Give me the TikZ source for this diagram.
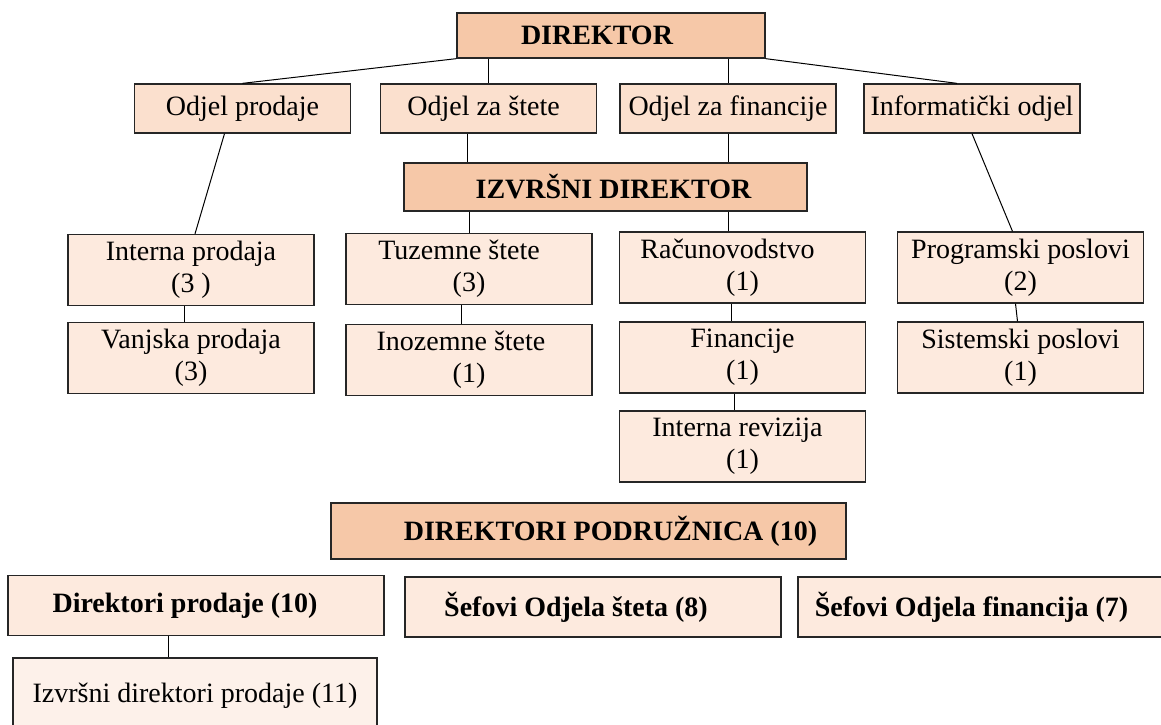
\documentclass[tikz,border=0pt]{standalone}
\usepackage{fontspec}
\setmainfont{Liberation Serif}
\definecolor{tamna}{RGB}{246,200,168}
\definecolor{srednja}{RGB}{251,224,206}
\definecolor{svijetla}{RGB}{253,234,222}
\definecolor{najsvj}{RGB}{253,241,234}
\tikzset{
	kutija/.style={shape=rectangle, draw=black!85, line width=1.3pt, inner sep=0pt, align=center, font=\fontsize{28}{32}\selectfont},
	glavni/.style={kutija, fill=tamna, font=\fontsize{28}{32}\selectfont\bfseries},
	odjel/.style={kutija, fill=srednja, minimum width=216pt, minimum height=49pt},
	sluzba/.style={kutija, fill=svijetla, minimum width=246pt, minimum height=71pt},
	podruz/.style={kutija, fill=svijetla, font=\fontsize{28}{32}\selectfont\bfseries, minimum width=376pt, minimum height=60pt},
	veza/.style={draw=black, line width=1pt}
}

\begin{document}
\begin{tikzpicture}[x=1pt, y=-1pt]
			\useasboundingbox[fill=white] (0,0) rectangle (1161,724);
			\node[glavni, minimum width=308pt, minimum height=45pt] (dir) at (611,35.5) {DIREKTOR\hspace*{28pt}};
			\node[odjel] (odprod) at (242.5,108.5) {Odjel prodaje};
			\node[odjel] (odstete) at (488.5,108.5) {Odjel za štete\hspace*{10pt}};
			\node[odjel] (odfin) at (728,108.5) {Odjel za financije};
			\node[odjel] (info) at (972,108.5) {Informatički odjel};
			\node[glavni, minimum width=403pt, minimum height=48pt] (izv) at (605.5,187) {\hspace*{16pt}IZVRŠNI DIREKTOR};
			\node[sluzba] (intprod) at (191,270) {Interna prodaja\\(3 )};
			\node[sluzba] (vanjprod) at (191,358) {Vanjska prodaja\\(3)};
			\node[sluzba] (tuz) at (469,269) {Tuzemne štete\hspace*{20pt}\\(3)};
			\node[sluzba] (inoz) at (469,360) {Inozemne štete\hspace*{16pt}\\(1)};
			\node[sluzba] (racun) at (742.5,267.5) {Računovodstvo\hspace*{30pt}\\(1)};
			\node[sluzba] (finan) at (742.5,357.5) {Financije\\(1)};
			\node[sluzba] (reviz) at (742.5,446.5) {Interna revizija\hspace*{10pt}\\(1)};
			\node[sluzba] (prog) at (1020.5,267.5) {Programski poslovi\\(2)};
			\node[sluzba] (sist) at (1020.5,357.5) {Sistemski poslovi\\(1)};
			\node[glavni, minimum width=515pt, minimum height=56pt] (podr) at (588.5,531) {\hspace*{44pt}DIREKTORI PODRUŽNICA (10)};
			\node[podruz] (dirprod) at (196,605.5) {Direktori prodaje (10)\hspace*{22pt}};
			\node[podruz] (sefstete) at (593,607) {Šefovi Odjela šteta (8)\hspace*{34pt}};
			\node[podruz, minimum width=382pt] (sefin) at (989,607) {Šefovi Odjela financija (7)\hspace*{35pt}};
			\node[kutija, fill=najsvj, minimum width=364pt, minimum height=122pt] (izvprod) at (195,719) {Izvršni direktori prodaje (11)\\[20pt]\mbox{}};
			
			\path [veza] (dir.south west) edge (odprod.north);
			\path [veza] (odstete.north |- dir.south) edge (odstete.north);
			\path [veza] (odfin.north |- dir.south) edge (odfin.north);
			\path [veza] (dir.south east) edge ([xshift=-15pt]info.north);
			\path [veza] ([xshift=-21pt]odstete.south) edge ([xshift=-21pt]odstete.south |- izv.north);
			\path [veza] (odfin.south) edge (odfin.south |- izv.north);
			\path [veza] ([xshift=-18pt]odprod.south) edge ([xshift=4pt]intprod.north);
			\path [veza] (info.south) edge ([xshift=-8pt]prog.north);
			\path [veza] (izv.south -| tuz.north) edge (tuz.north);
			\path [veza] (izv.south -| odfin.south) edge (racun.north -| odfin.south);
			\path [veza] ([xshift=-7pt]intprod.south) edge ([xshift=-7pt]vanjprod.north);
			\path [veza] ([xshift=-8pt]tuz.south) edge ([xshift=-8pt]inoz.north);
			\path [veza] ([xshift=-11pt]racun.south) edge ([xshift=-11pt]finan.north);
			\path [veza] ([xshift=-8pt]finan.south) edge ([xshift=-8pt]reviz.north);
			\path [veza] ([xshift=-5pt]prog.south) edge ([xshift=-3pt]sist.north);
			\path [veza] ([xshift=-28pt]dirprod.south) edge ([xshift=-27pt]izvprod.north);
		\end{tikzpicture}
\end{document}
